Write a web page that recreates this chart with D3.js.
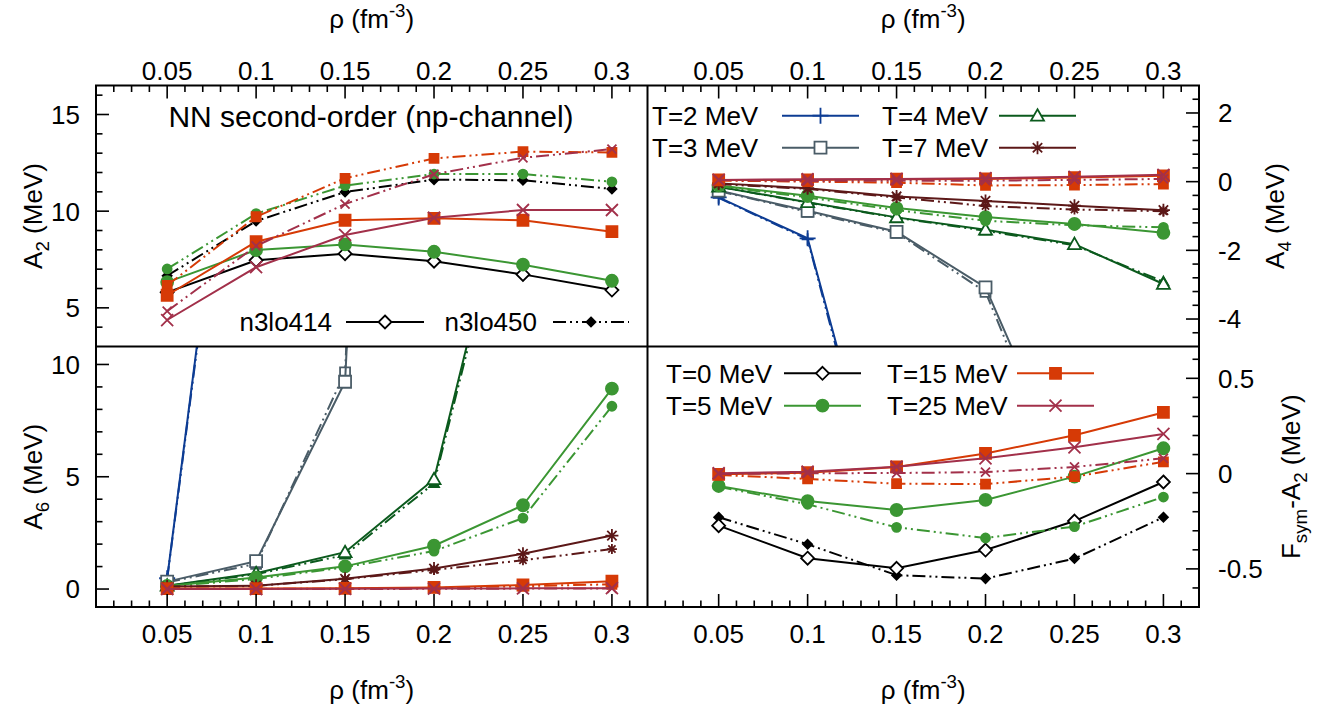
<!DOCTYPE html>
<html>
<head>
<meta charset="utf-8">
<script src="https://cdn.jsdelivr.net/npm/d3@7"></script>
<style>
  body { margin: 0; background: #fff; }
  svg { display: block; font-family: "Liberation Sans", Arial, Helvetica, sans-serif; }
</style>
</head>
<body>
<svg id="chart" width="1338" height="713"></svg>
<script>
// ---- data ---------------------------------------------------------------
const rhoGrid  = [0.05, 0.1, 0.15, 0.2, 0.25, 0.3];
const rhoTicks = [0.05, 0.1, 0.15, 0.2, 0.25, 0.3];
const rhoTickLabels = ['0.05', '0.1', '0.15', '0.2', '0.25', '0.3'];

// A2 (top-left), rows follow a2Temps
const a2Temps = [0, 5, 15, 25];
const a2_n3lo414 = [
  [5.80, 7.46, 7.80, 7.41, 6.73, 5.92],
  [6.33, 7.99, 8.28, 7.90, 7.23, 6.40],
  [5.65, 8.42, 9.53, 9.63, 9.53, 8.94],
  [4.37, 7.10, 8.77, 9.66, 10.06, 10.06]
];
const a2_n3lo450 = [
  [6.66, 9.49, 10.99, 11.63, 11.60, 11.15],
  [7.01, 9.87, 11.32, 11.92, 11.92, 11.52],
  [6.16, 9.71, 11.70, 12.73, 13.08, 13.04],
  [4.83, 8.20, 10.37, 11.91, 12.76, 13.21]
];

// A4 (top-right)
const a4Temps = [2, 3, 4, 5, 7, 15, 25];
const a4_n3lo414 = [
  [-0.46, -1.65, -11.2, null, null, null],
  [-0.26, -0.85, -1.46, -3.08, -9.0, null],
  [-0.15, -0.60, -1.04, -1.40, -1.82, -2.98],
  [-0.11, -0.41, -0.77, -1.03, -1.23, -1.49],
  [-0.05, -0.19, -0.43, -0.56, -0.70, -0.83],
  [0.05, 0.05, 0.07, 0.08, 0.12, 0.17],
  [0.05, 0.07, 0.08, 0.10, 0.14, 0.20]
];
const a4_n3lo450 = [
  [-0.47, -1.68, -11.5, null, null, null],
  [-0.27, -0.88, -1.49, -3.21, -9.5, null],
  [-0.15, -0.61, -1.05, -1.43, -1.85, -2.91],
  [-0.13, -0.46, -0.83, -1.14, -1.27, -1.33],
  [-0.07, -0.21, -0.46, -0.71, -0.81, -0.86],
  [0.03, 0.00, -0.03, -0.11, -0.10, -0.07],
  [0.05, 0.02, 0.03, 0.03, 0.05, 0.08]
];

// A6 (bottom-left)
const a6Temps = [2, 3, 4, 5, 7, 15, 25];
const a6_n3lo414 = [
  [0.48, 31.4, null, null, null, null],
  [0.33, 1.24, 9.23, 90, null, null],
  [0.15, 0.70, 1.64, 4.89, 21, null],
  [0.14, 0.51, 1.01, 1.93, 3.73, 8.92],
  [0.11, 0.15, 0.46, 0.91, 1.57, 2.38],
  [0.02, 0.02, 0.03, 0.07, 0.18, 0.35],
  [0.00, 0.00, 0.01, 0.02, 0.03, 0.04]
];
const a6_n3lo450 = [
  [0.45, 31.0, null, null, null, null],
  [0.30, 1.12, 9.65, 95, null, null],
  [0.14, 0.66, 1.52, 4.71, 20.5, null],
  [0.11, 0.45, 0.97, 1.69, 3.16, 8.14],
  [0.10, 0.14, 0.44, 0.85, 1.28, 1.78],
  [0.01, 0.01, 0.02, 0.05, 0.13, 0.21],
  [0.00, 0.00, 0.00, 0.01, 0.02, 0.03]
];

// Fsym - A2 (bottom-right)
const fsTemps = [0, 5, 15, 25];
const fs_n3lo414 = [
  [-0.273, -0.444, -0.497, -0.401, -0.249, -0.044],
  [-0.065, -0.144, -0.191, -0.138, -0.016, 0.133],
  [-0.004, 0.005, 0.035, 0.106, 0.201, 0.321],
  [0.002, 0.010, 0.036, 0.080, 0.138, 0.208]
];
const fs_n3lo450 = [
  [-0.229, -0.371, -0.533, -0.551, -0.446, -0.229],
  [-0.069, -0.161, -0.282, -0.338, -0.278, -0.123],
  [-0.007, -0.028, -0.053, -0.055, -0.016, 0.062],
  [-0.002, 0.002, 0.003, 0.008, 0.035, 0.080]
];

// ---- styles -------------------------------------------------------------
// fill: 'open' = white inside, 'solid' = coloured, 'none' = stroke only
const tempStyle = {
  0:  { color: '#000000', shape: 'diamond',  f414: 'open',  f450: 'solid', s414: 13, s450: 9 },
  2:  { color: '#0d3c93', shape: 'plus',     f414: 'none',  f450: 'none',  s414: 16, s450: 12 },
  3:  { color: '#4a5c67', shape: 'square',   f414: 'open',  f450: 'open',  s414: 12, s450: 10 },
  4:  { color: '#0b5a1d', shape: 'triangle', f414: 'open',  f450: 'solid', s414: 13, s450: 10 },
  5:  { color: '#3b9633', shape: 'circle',   f414: 'solid', f450: 'solid', s414: 12, s450: 9 },
  7:  { color: '#5c1818', shape: 'star',     f414: 'none',  f450: 'none',  s414: 13, s450: 10 },
  15: { color: '#d63a06', shape: 'square',   f414: 'solid', f450: 'solid', s414: 11, s450: 9 },
  25: { color: '#a2304a', shape: 'cross',    f414: 'none',  f450: 'none',  s414: 12, s450: 9 }
};
const DASH450 = '13,4,2,4,2,4';

// ---- layout -------------------------------------------------------------
const X0 = 96, XM = 647.5, X1 = 1199;
const Y0 = 85.5, YM = 346.5, Y1 = 607;
const TICK_FONT = 26;

const svg = d3.select('#chart');

function markerPath(shape, s) {
  const h = s / 2;
  switch (shape) {
    case 'diamond':  return `M0,${-h}L${h},0L0,${h}L${-h},0Z`;
    case 'square':   return `M${-h},${-h}H${h}V${h}H${-h}Z`;
    case 'triangle': return `M0,${-h}L${h},${h * 0.75}L${-h},${h * 0.75}Z`;
    case 'circle':   return `M${h},0A${h},${h} 0 1,1 ${-h},0A${h},${h} 0 1,1 ${h},0Z`;
    case 'plus':     return `M${-h},0H${h}M0,${-h}V${h}`;
    case 'cross':    return `M${-h},${-h}L${h},${h}M${-h},${h}L${h},${-h}`;
    case 'star': {
      const d = h * 0.72;
      return `M${-h},0H${h}M0,${-h}V${h}M${-d},${-d}L${d},${d}M${-d},${d}L${d},${-d}`;
    }
  }
  return '';
}

function fillFor(mode, color) {
  if (mode === 'open') return '#fff';
  if (mode === 'solid') return color;
  return 'none';
}

// text with sub/superscripts: parts = [[text, kind], ...]
function richText(g, x, y, parts, size, anchor, rotate) {
  const t = g.append('text')
    .attr('x', x).attr('y', y)
    .attr('font-size', size)
    .attr('text-anchor', anchor || 'middle')
    .attr('fill', '#000');
  if (rotate) t.attr('transform', `rotate(${rotate},${x},${y})`);
  let shift = 0;
  parts.forEach(([s, kind]) => {
    const ts = t.append('tspan').text(s);
    let target = 0;
    if (kind === 'sub') { target = size * 0.28; ts.attr('font-size', size * 0.72); }
    if (kind === 'sup') { target = -size * 0.42; ts.attr('font-size', size * 0.72); }
    if (target !== shift) { ts.attr('dy', target - shift); shift = target; }
  });
  return t;
}

// ---- panels -------------------------------------------------------------
const panels = [
  { id: 'a2', x: [X0, XM], y: [Y0, YM], domain: [3, 16.5], major: [5, 10, 15], minorStep: 1,
    temps: a2Temps, d414: a2_n3lo414, d450: a2_n3lo450, xSide: 'top', ySide: 'left' },
  { id: 'a4', x: [XM, X1], y: [Y0, YM], domain: [-4.8, 2.8], major: [-4, -2, 0, 2], minorStep: 0.4,
    temps: a4Temps, d414: a4_n3lo414, d450: a4_n3lo450, xSide: 'top', ySide: 'right' },
  { id: 'a6', x: [X0, XM], y: [YM, Y1], domain: [-0.8, 10.8], major: [0, 5, 10], minorStep: 1,
    temps: a6Temps, d414: a6_n3lo414, d450: a6_n3lo450, xSide: 'bottom', ySide: 'left' },
  { id: 'fs', x: [XM, X1], y: [YM, Y1], domain: [-0.7, 0.667], major: [-0.5, 0, 0.5], minorStep: 0.1,
    temps: fsTemps, d414: fs_n3lo414, d450: fs_n3lo450, xSide: 'bottom', ySide: 'right' }
];

const defs = svg.append('defs');

panels.forEach(p => {
  const xs = d3.scaleLinear().domain([0.01, 0.32]).range(p.x);
  const ys = d3.scaleLinear().domain(p.domain).range([p.y[1], p.y[0]]);

  defs.append('clipPath').attr('id', 'clip-' + p.id)
    .append('rect')
    .attr('x', p.x[0]).attr('y', p.y[0])
    .attr('width', p.x[1] - p.x[0]).attr('height', p.y[1] - p.y[0]);

  const g = svg.append('g').attr('clip-path', `url(#clip-${p.id})`);

  const line = d3.line()
    .defined(d => d[1] !== null)
    .x(d => xs(d[0]))
    .y(d => ys(d[1]));

  p.temps.forEach((T, i) => {
    const st = tempStyle[T];
    [['450', p.d450[i]], ['414', p.d414[i]]].forEach(([model, vals]) => {
      const pts = rhoGrid.map((r, k) => [r, vals[k]]);
      g.append('path')
        .attr('d', line(pts))
        .attr('fill', 'none')
        .attr('stroke', st.color)
        .attr('stroke-width', 2)
        .attr('stroke-dasharray', model === '450' ? DASH450 : null);
      const size = model === '450' ? st.s450 : st.s414;
      const fmode = model === '450' ? st.f450 : st.f414;
      g.selectAll(null)
        .data(pts.filter(d => d[1] !== null))
        .enter().append('path')
        .attr('transform', d => `translate(${xs(d[0])},${ys(d[1])})`)
        .attr('d', markerPath(st.shape, size))
        .attr('fill', fillFor(fmode, st.color))
        .attr('stroke', st.color)
        .attr('stroke-width', 1.8);
    });
  });

  // ---- ticks (inward, gnuplot style) ----
  const tg = svg.append('g').attr('stroke', '#000').attr('stroke-width', 1.6);
  const xEdge = p.xSide === 'top' ? p.y[0] : p.y[1];
  const xDir = p.xSide === 'top' ? 1 : -1;
  d3.range(2, 32).forEach(i => {
    const v = i / 100;
    const len = i % 5 === 0 ? 13 : 6.5;
    tg.append('line')
      .attr('x1', xs(v)).attr('x2', xs(v))
      .attr('y1', xEdge).attr('y2', xEdge + xDir * len);
  });
  const yEdge = p.ySide === 'left' ? p.x[0] : p.x[1];
  const yDir = p.ySide === 'left' ? 1 : -1;
  const nLo = Math.ceil(p.domain[0] / p.minorStep - 1e-6);
  const nHi = Math.floor(p.domain[1] / p.minorStep + 1e-6);
  d3.range(nLo, nHi + 1).forEach(i => {
    const v = i * p.minorStep;
    if (Math.abs(v - p.domain[0]) < 1e-6 || Math.abs(v - p.domain[1]) < 1e-6) return;
    const isMajor = p.major.some(m => Math.abs(m - v) < 1e-6);
    const len = isMajor ? 13 : 6.5;
    tg.append('line')
      .attr('x1', yEdge).attr('x2', yEdge + yDir * len)
      .attr('y1', ys(v)).attr('y2', ys(v));
  });

  // ---- tick labels ----
  const lg = svg.append('g').attr('font-size', TICK_FONT).attr('fill', '#000');
  rhoTicks.forEach((v, k) => {
    lg.append('text')
      .attr('x', xs(v))
      .attr('y', p.xSide === 'top' ? 80 : 643)
      .attr('text-anchor', 'middle')
      .text(rhoTickLabels[k]);
  });
  p.major.forEach(v => {
    lg.append('text')
      .attr('x', p.ySide === 'left' ? 80 : 1218)
      .attr('y', ys(v))
      .attr('dy', '0.36em')
      .attr('text-anchor', p.ySide === 'left' ? 'end' : 'start')
      .text(String(v));
  });
});

// ---- frames ----
const fg = svg.append('g').attr('fill', 'none').attr('stroke', '#000').attr('stroke-width', 2);
fg.append('rect').attr('x', X0).attr('y', Y0).attr('width', X1 - X0).attr('height', Y1 - Y0);
fg.append('line').attr('x1', XM).attr('x2', XM).attr('y1', Y0).attr('y2', Y1);
fg.append('line').attr('x1', X0).attr('x2', X1).attr('y1', YM).attr('y2', YM);

// ---- axis titles ----
const at = svg.append('g');
const rhoLabel = [['\u03C1 (fm', null], ['-3', 'sup'], [')', null]];
[[371.75, 28], [923.25, 28], [371.75, 699], [923.25, 699]].forEach(([x, y]) => {
  richText(at, x, y, rhoLabel, 26, 'middle');
});
richText(at, 42, 216, [['A', null], ['2', 'sub'], [' (MeV)', null]], 26, 'middle', -90);
richText(at, 42, 476.75, [['A', null], ['6', 'sub'], [' (MeV)', null]], 26, 'middle', -90);
richText(at, 1284, 216, [['A', null], ['4', 'sub'], [' (MeV)', null]], 26, 'middle', -90);
richText(at, 1300, 476.75, [['F', null], ['sym', 'sub'], ['-A', null], ['2', 'sub'], [' (MeV)', null]], 26, 'middle', -90);

// ---- title in top-left panel ----
svg.append('text')
  .attr('x', 371).attr('y', 127)
  .attr('text-anchor', 'middle')
  .attr('font-size', 30)
  .text('NN second-order (np-channel)');

// ---- legends ----
function legendEntry(g, label, anchor, tx, x1, x2, y, color, shape, size, fmode, dashed) {
  g.append('text')
    .attr('x', tx).attr('y', y).attr('dy', '0.36em')
    .attr('text-anchor', anchor)
    .attr('font-size', 26)
    .text(label);
  g.append('line')
    .attr('x1', x1).attr('x2', x2).attr('y1', y).attr('y2', y)
    .attr('stroke', color).attr('stroke-width', 2)
    .attr('stroke-dasharray', dashed ? DASH450 : null);
  g.append('path')
    .attr('transform', `translate(${(x1 + x2) / 2},${y})`)
    .attr('d', markerPath(shape, size))
    .attr('fill', fillFor(fmode, color))
    .attr('stroke', color).attr('stroke-width', 1.8);
}

const leg = svg.append('g');
// model key, top-left
legendEntry(leg, 'n3lo414', 'end', 332, 346, 424, 322, '#000', 'diamond', 13, 'open', false);
legendEntry(leg, 'n3lo450', 'end', 537, 553, 629, 322, '#000', 'diamond', 9, 'solid', true);

// temperature keys
const keyTopRight = [[2, 0, 0], [4, 1, 0], [3, 0, 1], [7, 1, 1]];
keyTopRight.forEach(([T, col, row]) => {
  const st = tempStyle[T];
  const tx = col === 0 ? 652 : 882;
  const x1 = col === 0 ? 782 : 999;
  legendEntry(leg, `T=${T} MeV`, 'start', tx, x1, x1 + 77, 115.7 + row * 32,
    st.color, st.shape, st.s414, st.f414, false);
});
const keyBottomRight = [[0, 0, 0], [15, 1, 0], [5, 0, 1], [25, 1, 1]];
keyBottomRight.forEach(([T, col, row]) => {
  const st = tempStyle[T];
  const tx = col === 0 ? 666 : 887;
  const x1 = col === 0 ? 784 : 1017;
  legendEntry(leg, `T=${T} MeV`, 'start', tx, x1, x1 + 77, 373.3 + row * 32.4,
    st.color, st.shape, st.s414, st.f414, false);
});
</script>
</body>
</html>
